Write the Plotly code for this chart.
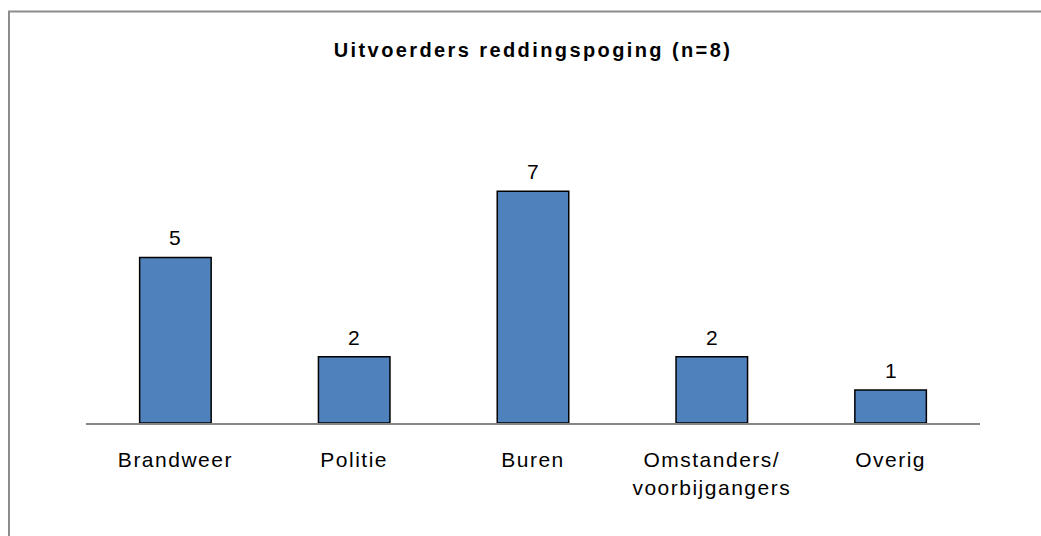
import plotly.graph_objects as go

# Who carried out the rescue attempt (counts)
categories = ["Brandweer", "Politie", "Buren", "Omstanders/<br>voorbijgangers", "Overig"]
counts = [5, 2, 7, 2, 1]
title_text = "Uitvoerders reddingspoging (n=8)"

W, H = 1041, 536
M_L, M_R, M_T, M_B = 86, 61, 158, 113
plot_w = W - M_L - M_R
plot_h = H - M_T - M_B

FONT = "Liberation Sans, Arial, sans-serif"

fig = go.Figure(
    go.Bar(
        x=categories,
        y=counts,
        marker=dict(color="#4F81BD", line=dict(color="#000000", width=1.5)),
        hoverinfo="skip",
    )
)

# Value labels above each bar
for c, v in zip(categories, counts):
    fig.add_annotation(
        x=c, y=v, text=str(v), showarrow=False,
        yanchor="bottom", yshift=6,
        font=dict(family=FONT, size=21, color="#000000"),
    )

# Outer chart frame (left and top edges fall inside the page)
def px_to_paper_x(px):
    return (px - M_L) / plot_w

def px_to_paper_y(py):
    return (H - M_B - py) / plot_h

fig.add_shape(
    type="rect", xref="paper", yref="paper",
    x0=px_to_paper_x(9), x1=px_to_paper_x(W + 20),
    y0=px_to_paper_y(H + 20), y1=px_to_paper_y(11.5),
    line=dict(color="#8C8C8C", width=2), fillcolor="rgba(0,0,0,0)",
    layer="below",
)

fig.update_layout(
    width=W, height=H,
    margin=dict(l=M_L, r=M_R, t=M_T, b=M_B),
    paper_bgcolor="#FFFFFF", plot_bgcolor="#FFFFFF",
    bargap=0.6,
    showlegend=False,
    title=dict(
        text="<b>" + title_text + "</b>",
        x=0.5, xref="paper", xanchor="center",
        y=1 - 50 / H, yref="container", yanchor="middle",
        font=dict(family=FONT, size=20, color="#000000"),
    ),
    xaxis=dict(
        showline=True, linecolor="#868686", linewidth=2,
        showgrid=False, zeroline=False, ticks="",
        ticklabelstandoff=17,
        tickfont=dict(family=FONT, size=21, color="#000000"),
        fixedrange=True,
    ),
    yaxis=dict(
        range=[0, 8], visible=False, showgrid=False, zeroline=False,
        fixedrange=True,
    ),
)

post = """
var gd = document.getElementById('{plot_id}');
gd.querySelectorAll('.xtick text').forEach(function(t){ t.style.letterSpacing = '1.5px'; });
gd.querySelectorAll('.gtitle').forEach(function(t){ t.style.letterSpacing = '2.4px'; });
"""

fig.write_html("out.html", config={"displayModeBar": False}, post_script=post)
